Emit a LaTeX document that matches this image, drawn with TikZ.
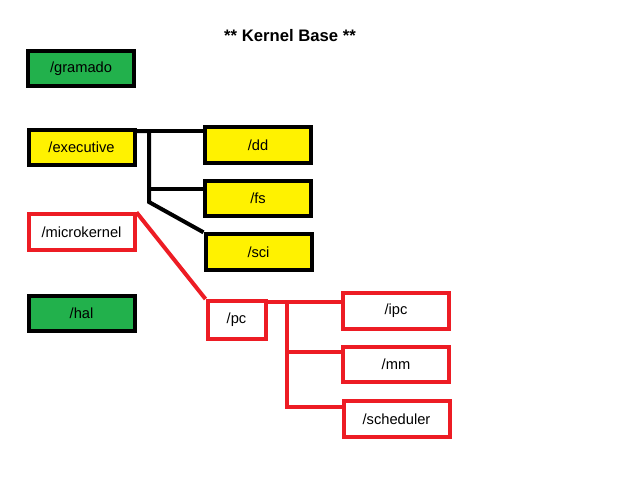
\documentclass[tikz,border=0pt]{standalone}
\usepackage{fontspec}
\setmainfont{Liberation Sans}
\definecolor{paintgreen}{RGB}{34,177,76}
\definecolor{paintyellow}{RGB}{255,242,0}
\definecolor{paintred}{RGB}{237,28,36}
\begin{document}
\begin{tikzpicture}[x=0.75pt, y=-0.75pt,
  kbox/.style={draw, line width=3pt, minimum width=79.5pt, minimum height=26.5pt, inner sep=0pt, font=\fontsize{11}{13}\selectfont},
  greenbox/.style={kbox, draw=black, fill=paintgreen},
  yellowbox/.style={kbox, draw=black, fill=paintyellow},
  redbox/.style={kbox, draw=paintred, fill=white},
  blackline/.style={black, line width=3pt},
  redline/.style={paintred, line width=3pt}]

\useasboundingbox (0,0) rectangle (640,480);

\node [font=\fontsize{12.5}{15}\selectfont\bfseries] (title) at (290, 36) {** Kernel Base **};

% left column
\node [greenbox]  (gramado) at (81, 68.5)  {/gramado};
\node [yellowbox] (exec)    at (81.5, 147.5) {/executive};
\node [redbox]    (micro)   at (81.5, 232) {/microkernel};
\node [greenbox]  (hal)     at (81.5, 313.5) {/hal};

% executive
\node [yellowbox] (dd)  at (258, 145)   {/dd};
\node [yellowbox] (fs)  at (258, 198.5) {/fs};
\node [yellowbox] (sci) at (258.5, 252) {/sci};

\coordinate (ktop) at (149, 131);
\coordinate (kfs)  at (149, 189);
\coordinate (kbot) at (149, 202);

\draw [blackline] (ktop -| exec.east) -- (ktop) -- (kbot) -- (sci.north west);
\draw [blackline] (ktop) -- (ktop -| dd.west);
\draw [blackline] (kfs) -- (kfs -| fs.west);

% microkernel
\node [redbox, minimum width=43.5pt, minimum height=28.5pt] (pc) at (236.5, 320) {/pc};
\node [redbox] (ipc)   at (396, 311)   {/ipc};
\node [redbox] (mm)    at (396, 364.5) {/mm};
\node [redbox] (sched) at (396.5, 419) {/scheduler};

\coordinate (ptop) at (287, 302);
\coordinate (pmm)  at (287, 352);
\coordinate (pbot) at (287, 407);

\draw [redline] (micro.north east) -- (pc.north west);
\draw [redline] (ptop -| pc.east) -- (ptop) -- (pbot) -- (pbot -| sched.west);
\draw [redline] (ptop) -- (ptop -| ipc.west);
\draw [redline] (pmm) -- (pmm -| mm.west);

\end{tikzpicture}
\end{document}
